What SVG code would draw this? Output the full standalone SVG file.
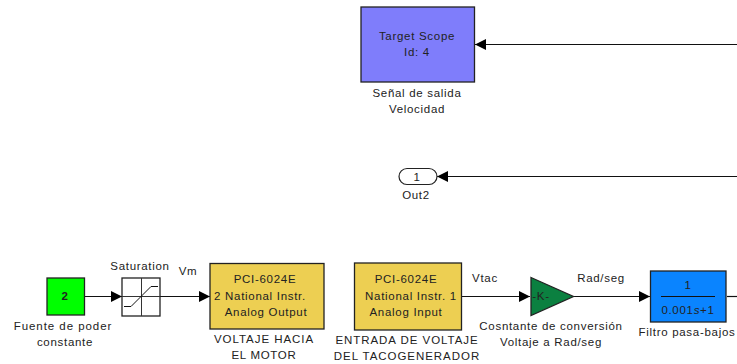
<svg xmlns="http://www.w3.org/2000/svg" width="737" height="364" viewBox="0 0 737 364">
<defs>
<marker id="a" markerUnits="userSpaceOnUse" markerWidth="12" markerHeight="12" refX="11" refY="6" orient="auto"><path d="M0,0.500 L11,6 L0,11.500 Z" fill="#000"/></marker>
</defs>
<style>
text{font-family:"Liberation Sans",Arial,sans-serif;font-size:11.5px;fill:#222;text-anchor:middle;letter-spacing:.7px}
.w{letter-spacing:.95px}
.b{stroke:#222;stroke-width:1.3}
.c{fill:none;stroke:#111;stroke-width:1.2}
</style>
<rect width="737" height="364" fill="#fff"/>
<g id="connectors">
<path class="c" d="M737,44.500H475" marker-end="url(#a)"/>
<path class="c" d="M737,176.500H437" marker-end="url(#a)"/>
<path class="c" d="M85,296.500H122" marker-end="url(#a)"/>
<path class="c" d="M160,296.500H210" marker-end="url(#a)"/>
<path class="c" d="M461,296.500H530" marker-end="url(#a)"/>
<path class="c" d="M574,296.500H650" marker-end="url(#a)"/>
<path class="c" d="M727,296.500H737"/>
</g>
<g id="target-scope">
<rect class="b" x="361" y="7" width="113.500" height="75" fill="#7f7dfb"/>
<text x="417" y="40">Target Scope</text><text x="417" y="56">Id: 4</text>
<text x="417" y="97">Señal de salida</text><text x="417" y="113">Velocidad</text>
</g>
<g id="out2">
<rect x="399" y="168.500" width="38" height="16" rx="8" fill="#fff" stroke="#222" stroke-width="1.200"/>
<text x="417" y="181">1</text><text x="416" y="199">Out2</text>
</g>
<g id="fuente">
<rect class="b" x="47" y="278" width="37.500" height="37" fill="#0f0"/>
<text x="65" y="300" font-weight="bold">2</text>
<text class="w" x="63" y="330">Fuente de poder</text><text x="65" y="346">constante</text>
</g>
<g id="saturation">
<rect class="b" x="122" y="278" width="38" height="38" fill="#fff"/>
<path d="M141.500,278V316" stroke="#333" fill="none"/>
<path d="M122,296.500H160" stroke="#333" fill="none"/>
<path d="M124,306.500H131L151,286.500H158" stroke="#111" fill="none"/>
<text x="140" y="270">Saturation</text>
</g>
<text x="188" y="275">Vm</text>
<g id="analog-output">
<rect class="b" x="210" y="263.500" width="114" height="65.500" fill="#edcf52"/>
<text x="265" y="283">PCI-6024E</text>
<text x="260" y="300">2 National Instr.</text>
<text x="266" y="316">Analog Output</text>
<text class="w" x="264" y="343">VOLTAJE HACIA</text><text x="264" y="359">EL MOTOR</text>
</g>
<g id="analog-input">
<rect class="b" x="354.500" y="263" width="107" height="67" fill="#edcf52"/>
<text x="406" y="283">PCI-6024E</text>
<text x="411" y="300">National Instr. 1</text>
<text x="406" y="316">Analog Input</text>
<text class="w" x="407" y="344">ENTRADA DE VOLTAJE</text><text class="w" x="407" y="360">DEL TACOGENERADOR</text>
</g>
<text x="485" y="282">Vtac</text>
<g id="gain">
<path class="b" d="M531,277.500L573.500,296.500L531,315.500Z" fill="#0b8040"/>
<text x="541" y="300">-K-</text>
<text x="551" y="330">Cosntante de conversión</text><text x="551" y="346">Voltaje a Rad/seg</text>
</g>
<text x="601" y="282">Rad/seg</text>
<g id="filtro">
<rect class="b" x="650.500" y="271" width="75.500" height="51" fill="#0a84ff"/>
<path d="M661,296.500H715" stroke="#111" stroke-width="1.200"/>
<text x="688" y="289">1</text><text x="688" y="314">0.001<tspan font-style="italic">s</tspan>+1</text>
<text x="687" y="336">Filtro pasa-bajos</text>
</g>
</svg>
